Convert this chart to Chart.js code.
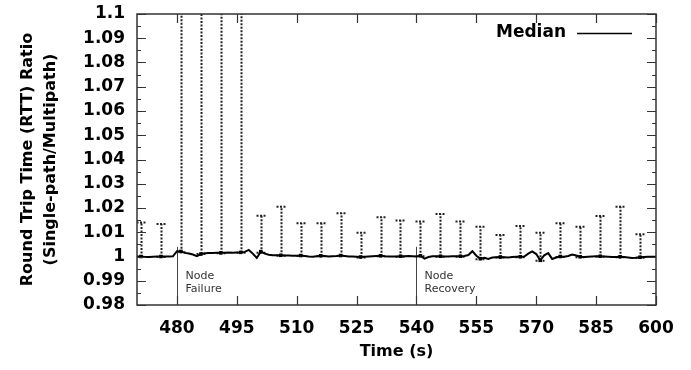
<!DOCTYPE html>
<html>
<head>
<meta charset="utf-8">
<script src="https://cdn.jsdelivr.net/npm/chart.js@4.4.1/dist/chart.umd.min.js"></script>
<style>
  body { margin: 0; background: #fff; }
  #wrap { width: 691px; height: 370px; }
</style>
</head>
<body>
<div id="wrap"><canvas id="rtt" width="691" height="370"></canvas></div>
<script>
// median ratio, one sample per second from 470 s to 600 s
const medianStart = 470;
const medianValues = [
  1.0000, 1.0000, 0.9998, 0.9998, 0.9999, 1.0000, 1.0000, 1.0000, 1.0000, 1.0001,
  1.0022, 1.0021, 1.0015, 1.0012, 1.0008, 1.0001, 1.0010, 1.0013, 1.0014, 1.0014,
  1.0015, 1.0015, 1.0015, 1.0016, 1.0015, 1.0016, 1.0017, 1.0019, 1.0027, 1.0012,
  0.9994, 1.0020, 1.0012, 1.0007, 1.0005, 1.0005, 1.0005, 1.0004, 1.0004, 1.0003,
  1.0003, 1.0004, 1.0002, 1.0000, 0.9999, 1.0001, 1.0003, 1.0002, 1.0000, 1.0001,
  1.0002, 1.0004, 1.0002, 1.0000, 1.0000, 0.9999, 0.9998, 0.9999, 1.0000, 1.0001,
  1.0002, 1.0003, 1.0001, 1.0000, 1.0000, 1.0000, 1.0001, 1.0001, 1.0002, 1.0001,
  1.0000, 1.0003, 0.9991, 0.9998, 1.0001, 1.0001, 1.0001, 1.0000, 1.0000, 1.0001,
  1.0001, 1.0001, 1.0002, 1.0006, 1.0022, 1.0003, 0.9991, 0.9995, 0.9990, 0.9996,
  0.9997, 0.9998, 0.9997, 0.9996, 0.9998, 0.9999, 0.9999, 1.0000, 1.0012, 1.0021,
  1.0010, 0.9984, 1.0005, 1.0014, 0.9990, 0.9996, 1.0000, 0.9999, 1.0002, 1.0008,
  1.0004, 0.9999, 0.9998, 0.9999, 1.0000, 1.0001, 1.0001, 1.0000, 0.9999, 0.9998,
  0.9998, 0.9999, 0.9998, 0.9996, 0.9994, 0.9995, 0.9997, 0.9998, 0.9999, 0.9999,
  0.9999
];

// error bars every 5 s
const errTimes = [471, 476, 481, 486, 491, 496, 501, 506, 511, 516, 521, 526, 531,
                  536, 541, 546, 551, 556, 561, 566, 571, 576, 581, 586, 591, 596];
const errHigh = [1.0140, 1.0134, 1.2, 1.2, 1.2, 1.2, 1.0168, 1.0205, 1.0137, 1.0137,
                 1.0178, 1.0098, 1.0162, 1.0148, 1.0144, 1.0175, 1.0144, 1.0123, 1.0089,
                 1.0126, 1.0098, 1.0137, 1.0123, 1.0167, 1.0205, 1.0092];
const errLow = [0.9998, 0.9998, 1.0018, 1.0010, 1.0013, 1.0015, 1.0015, 1.0003, 1.0002,
                1.0001, 1.0002, 0.9996, 1.0001, 0.9999, 1.0001, 0.9999, 0.9999, 0.9989,
                0.9996, 0.9997, 0.9982, 0.9998, 0.9997, 0.9999, 0.9997, 0.9995];

// events
const eventTimes = [480, 540];
const eventLabels = [['Node', 'Failure'], ['Node', 'Recovery']];
const eventTop = 1.004;
const eventLabelAt = 0.992;

const xTicks = [480, 495, 510, 525, 540, 555, 570, 585, 600];
const yTicks = [0.98, 0.99, 1, 1.01, 1.02, 1.03, 1.04, 1.05, 1.06, 1.07, 1.08, 1.09, 1.1];
const yMinorTicks = [0.985, 0.995, 1.005, 1.015, 1.025, 1.035, 1.045, 1.055, 1.065, 1.075, 1.085, 1.095];

const medianPoints = medianValues.map((v, i) => ({ x: medianStart + i, y: v }));

const errorBars = {
    id: 'errorBars',
    beforeDatasetsDraw(chart) {
        const { ctx, chartArea: a, scales: { x, y } } = chart;
        ctx.save();
        ctx.beginPath();
        ctx.rect(a.left, a.top, a.width, a.height);
        ctx.clip();
        ctx.strokeStyle = '#222';
        ctx.lineWidth = 2;
        ctx.setLineDash([2, 1.5]);
        errTimes.forEach((t, i) => {
            const px = Math.round(x.getPixelForValue(t)) + 0.5;
            const top = y.getPixelForValue(errHigh[i]);
            const bot = y.getPixelForValue(errLow[i]);
            ctx.beginPath();
            ctx.moveTo(px, bot);
            ctx.lineTo(px, top);
            ctx.moveTo(px - 5, top);
            ctx.lineTo(px + 5, top);
            ctx.moveTo(px - 5, bot);
            ctx.lineTo(px + 5, bot);
            ctx.stroke();
        });
        ctx.restore();

        // event markers
        ctx.save();
        ctx.strokeStyle = '#444';
        ctx.lineWidth = 1;
        ctx.fillStyle = '#333';
        ctx.font = '11px "DejaVu Sans"';
        ctx.textBaseline = 'middle';
        eventTimes.forEach((t, i) => {
            const px = Math.round(x.getPixelForValue(t)) + 0.5;
            ctx.beginPath();
            ctx.moveTo(px, a.bottom);
            ctx.lineTo(px, y.getPixelForValue(eventTop));
            ctx.stroke();
            const ly = y.getPixelForValue(eventLabelAt);
            eventLabels[i].forEach((line, k) => {
                ctx.fillText(line, px + 8, ly + k * 13);
            });
        });
        ctx.restore();
    }
};

const frameTicks = {
    id: 'frameTicks',
    afterDraw(chart) {
        const { ctx, chartArea: a, scales: { x, y } } = chart;
        ctx.save();
        ctx.strokeStyle = '#333';
        ctx.lineWidth = 1.5;
        ctx.strokeRect(a.left, a.top, a.width, a.height);
        ctx.lineWidth = 1.2;
        ctx.beginPath();
        yTicks.forEach(v => {
            const py = Math.round(y.getPixelForValue(v)) + 0.5;
            ctx.moveTo(a.left, py); ctx.lineTo(a.left + 9, py);
            ctx.moveTo(a.right, py); ctx.lineTo(a.right - 9, py);
        });
        yMinorTicks.forEach(v => {
            const py = Math.round(y.getPixelForValue(v)) + 0.5;
            ctx.moveTo(a.left, py); ctx.lineTo(a.left + 4, py);
            ctx.moveTo(a.right, py); ctx.lineTo(a.right - 4, py);
        });
        xTicks.forEach(v => {
            const px = Math.round(x.getPixelForValue(v)) + 0.5;
            ctx.moveTo(px, a.bottom); ctx.lineTo(px, a.bottom - 9);
            ctx.moveTo(px, a.top); ctx.lineTo(px, a.top + 9);
        });
        ctx.stroke();

        // key in the top right corner
        const ds = chart.data.datasets[0];
        const ky = a.top + 19;
        const lineEnd = a.right - 24;
        const lineStart = lineEnd - 55;
        ctx.fillStyle = '#000';
        ctx.font = 'bold 17px "DejaVu Sans"';
        ctx.textAlign = 'right';
        ctx.textBaseline = 'middle';
        ctx.fillText(ds.label, lineStart - 11, ky);
        ctx.strokeStyle = ds.borderColor;
        ctx.lineWidth = 1.5;
        ctx.beginPath();
        ctx.moveTo(lineStart, ky + 0.5);
        ctx.lineTo(lineEnd, ky + 0.5);
        ctx.stroke();
        ctx.restore();
    }
};

new Chart(document.getElementById('rtt'), {
    type: 'line',
    data: {
        datasets: [{
            label: 'Median',
            data: medianPoints,
            borderColor: '#000',
            backgroundColor: '#000',
            borderWidth: 2,
            tension: 0,
            pointStyle: 'rect',
            pointRadius: ctx => errTimes.includes(ctx.raw && ctx.raw.x) ? 2.5 : 0,
            pointBorderWidth: 0
        }]
    },
    options: {
        responsive: false,
        devicePixelRatio: 1,
        animation: false,
        layout: { padding: { top: 14, right: 35, left: 0, bottom: 0 } },
        scales: {
            x: {
                type: 'linear',
                min: 470,
                max: 600,
                afterBuildTicks: axis => { axis.ticks = xTicks.map(v => ({ value: v })); },
                afterFit: axis => { axis.height = 65; axis.paddingRight = 0; axis.paddingLeft = 0; },
                grid: { display: false, drawTicks: false },
                border: { display: false },
                ticks: {
                    color: '#000',
                    padding: 13,
                    maxRotation: 0,
                    font: { family: 'DejaVu Sans', size: 17, weight: 'bold' }
                },
                title: {
                    display: true,
                    text: 'Time (s)',
                    color: '#000',
                    padding: { top: 4, bottom: 9 },
                    font: { family: 'DejaVu Sans', size: 16, weight: 'bold' }
                }
            },
            y: {
                min: 0.98,
                max: 1.1,
                afterBuildTicks: axis => { axis.ticks = yTicks.map(v => ({ value: v })); },
                afterFit: axis => { axis.width = 137; axis.paddingTop = 0; axis.paddingBottom = 0; },
                grid: { display: false, drawTicks: false },
                border: { display: false },
                ticks: {
                    color: '#000',
                    padding: 12,
                    callback: v => String(parseFloat(v.toFixed(2))),
                    font: { family: 'DejaVu Sans', size: 17, weight: 'bold' }
                },
                title: {
                    display: true,
                    text: ['Round Trip Time (RTT) Ratio', '(Single-path/Multipath)'],
                    color: '#000',
                    padding: { top: 17, bottom: 0 },
                    font: { family: 'DejaVu Sans', size: 16, weight: 'bold', lineHeight: 1.4 }
                }
            }
        },
        plugins: {
            legend: { display: false },
            tooltip: { enabled: false }
        }
    },
    plugins: [errorBars, frameTicks]
});
</script>
</body>
</html>
